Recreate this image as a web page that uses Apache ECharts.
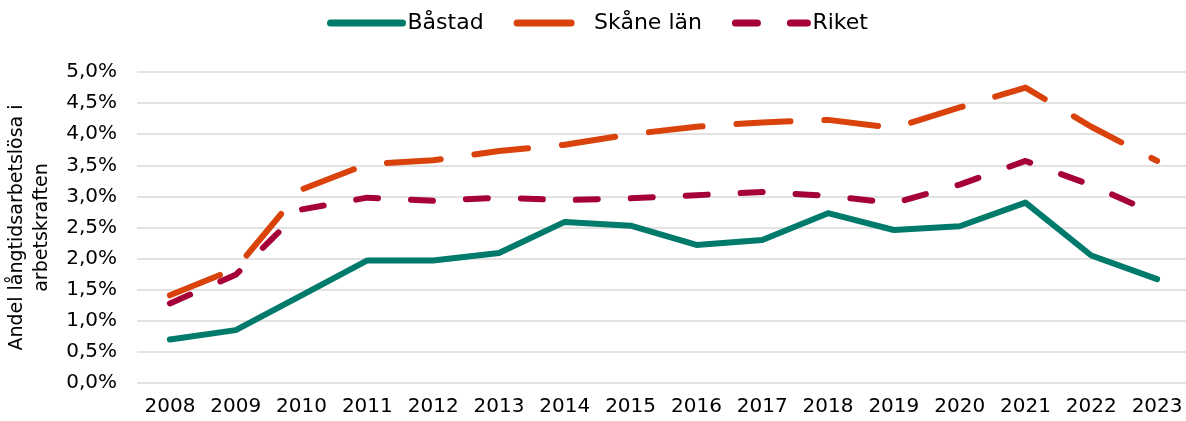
<!DOCTYPE html>
<html><head><meta charset="utf-8">
<script src="https://cdn.jsdelivr.net/npm/echarts@6/dist/echarts.min.js"></script>
<style>html,body{margin:0;padding:0;background:#fff}#c{width:1186px;height:421px}</style>
</head><body><div id="c"></div>
<script>
const years = ['2008','2009','2010','2011','2012','2013','2014','2015','2016','2017','2018','2019','2020','2021','2022','2023'];
const bastad = [0.70,0.85,1.41,1.97,1.97,2.09,2.59,2.53,2.22,2.30,2.73,2.46,2.52,2.90,2.05,1.67];
const skane  = [1.41,1.84,3.11,3.52,3.58,3.73,3.83,4.00,4.12,4.19,4.23,4.10,4.43,4.75,4.12,3.57];
const riket  = [1.28,1.74,2.79,2.98,2.93,2.98,2.94,2.97,3.02,3.07,3.01,2.89,3.19,3.57,3.18,2.71];
const yTicks = [0,0.5,1,1.5,2,2.5,3,3.5,4,4.5,5];

const font = 'DejaVu Sans, sans-serif';
const chart = echarts.init(document.getElementById('c'), null, {renderer:'canvas'});
chart.setOption({
  animation:false,
  textStyle:{fontFamily:font},
  legend:{
    top:7, left:322, itemWidth:72, itemHeight:14, itemGap:30,
    itemStyle:{opacity:0},
    lineStyle:{width:7},
    textStyle:{fontSize:22, color:'#000', fontFamily:font},
    data:['Båstad','Skåne län','Riket']
  },
  grid:{left:137, top:72, width:1053, bottom:38, outerBoundsMode:'none'},
  xAxis:{
    type:'category', data:years, boundaryGap:true,
    axisLine:{show:false}, axisTick:{show:false},
    axisLabel:{fontSize:20, color:'#000', margin:14, fontFamily:font, interval:0}
  },
  yAxis:{
    type:'value', min:yTicks[0], max:yTicks[yTicks.length-1], interval:0.5,
    name:'Andel långtidsarbetslösa i\narbetskraften',
    nameLocation:'middle', nameGap:82, nameRotate:90,
    nameTextStyle:{fontSize:19, color:'#000', fontFamily:font, lineHeight:25},
    axisLine:{show:false}, axisTick:{show:false},
    splitLine:{lineStyle:{color:'#d9d9d9', width:1.5}},
    axisLabel:{fontSize:20, color:'#000', margin:20, fontFamily:font,
      formatter:v=>v.toFixed(1).replace('.',',')+'%'}
  },
  series:[
    {name:'Båstad', type:'line', data:bastad, symbol:'none',
     lineStyle:{color:'#007a6a', width:6, cap:'round', join:'round'}, itemStyle:{color:'#007a6a'}},
    {name:'Skåne län', type:'line', data:skane, symbol:'none',
     lineStyle:{color:'#d9420b', width:6, cap:'round', join:'round', type:[54,34]}, itemStyle:{color:'#d9420b'}},
    {name:'Riket', type:'line', data:riket, symbol:'none',
     lineStyle:{color:'#a6003a', width:6, cap:'round', join:'round', type:[22,33]}, itemStyle:{color:'#a6003a'}}
  ]
});
</script></body></html>
